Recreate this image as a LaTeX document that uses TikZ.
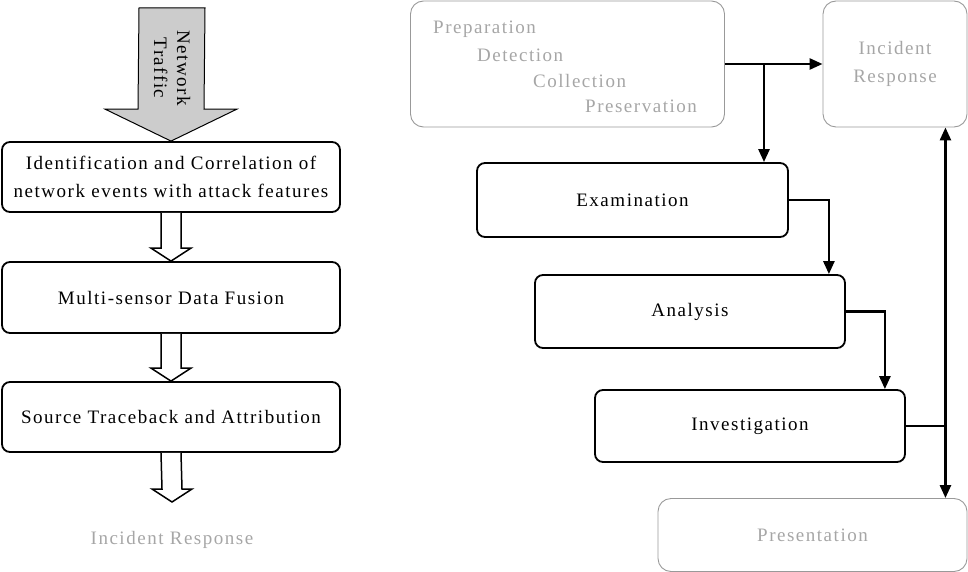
\documentclass[tikz,border=0pt]{standalone}
\usepackage{fontspec}
\setmainfont{Liberation Serif}[LetterSpace=8]
\usetikzlibrary{calc,arrows.meta}
\tikzset{
  stage/.style={draw, line width=1.8pt, rounded corners=8pt, align=center},
  faded/.style={draw=black!40, line width=0.9pt, rounded corners=13pt, text=black!35, align=center},
  flow/.style={line width=2.6pt, >={Triangle[length=13pt,width=11pt]}},
  hollow/.style={draw, line width=1.5pt, fill=white},
}
% hollow block arrow from the bottom of a node down to a point
\newcommand{\blockarrow}[2]{%
  \draw[hollow] ($(#1.south)+(-10,0)$) -- ($(#2)+(-10,-13)$) -- ($(#2)+(-20,-13)$) -- (#2)
    -- ($(#2)+(20,-13)$) -- ($(#2)+(10,-13)$) -- ($(#1.south)+(10,0)$);}

\begin{document}
\begin{tikzpicture}[x=1pt, y=-1pt, font=\fontsize{19}{28}\selectfont]
    \useasboundingbox (0,0) rectangle (968,572);
    % left: traceback chain
    \node[stage, minimum width=338, minimum height=70] (ident) at (171,177)
        {Identification and Correlation of\\network events with attack features};
    \node[stage, minimum width=338, minimum height=71] (fusion) at (171,297.5) {Multi-sensor Data Fusion};
    \node[stage, minimum width=338, minimum height=70] (trace) at (171,417) {Source Traceback and Attribution};
    \node[text=black!35] (resp) at (172,540) {Incident Response};
    \coordinate (src) at (172,8);
    \coordinate (tip) at (172,502);

    \draw[fill=black!20, line width=1pt] ($(src)+(-33,0)$) -- ($(ident.north)+(-33,-32)$) -- ($(ident.north)+(-66,-32)$)
        -- (ident.north) -- ($(ident.north)+(66,-32)$) -- ($(ident.north)+(33,-32)$) -- ($(src)+(33,0)$) -- cycle;
    \node[rotate=-90, align=center, font=\fontsize{19}{23}\selectfont] (traffic) at (172,68) {Network\\Traffic};

    \blockarrow{ident}{fusion.north}
    \blockarrow{fusion}{trace.north}
    \blockarrow{trace}{tip}

    % right: forensic process
    \node[faded, minimum width=314, minimum height=126] (prep) at (567.5,64) {};
    \foreach \t/\x/\y [count=\i] in {Preparation/433/29, Detection/477/55, Collection/533/81, Preservation/585/106}
        \node[text=black!35, anchor=west, inner sep=0pt] (phase\i) at (\x,\y) {\t};
    \node[faded, minimum width=144, minimum height=126] (ir) at (895,64) {Incident\\Response};
    \node[stage, minimum width=311, minimum height=74] (exam) at (632.5,200) {Examination};
    \node[stage, minimum width=310, minimum height=73] (ana) at (690,311.5) {Analysis};
    \node[stage, minimum width=310, minimum height=72] (inv) at (750,426) {Investigation};
    \node[faded, minimum width=309, minimum height=73] (pres) at (812.5,535) {Presentation};

    \coordinate (br) at ($(prep.east)!0.4!(ir.west)$);
    \coordinate (sp1) at ($(ir.south east)+(-22,0)$);
    \coordinate (sp2) at (sp1 |- pres.north);
    \draw[flow, ->] (prep.east) -- (ir.west);
    \draw[flow, ->] (br) -- (br |- exam.north);
    \draw[flow, ->] (exam.east) -| ($(ana.north east)+(-17,0)$);
    \draw[flow, ->] (ana.east) -| ($(inv.north east)+(-21,0)$);
    \draw[flow] (inv.east) -- (inv.east -| sp1);
    \draw[flow, <->] (sp1) -- (sp2);
\end{tikzpicture}
\end{document}
